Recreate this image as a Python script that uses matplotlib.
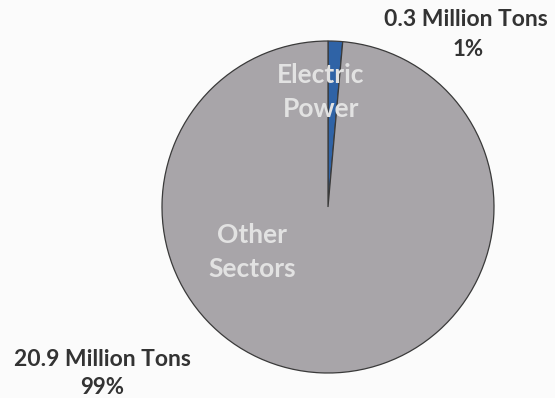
import matplotlib
matplotlib.use("Agg")
import matplotlib.pyplot as plt

sectors = ["Electric\nPower", "Other\nSectors"]
tons = [0.3, 20.9]
tons_labels = ["0.3 Million Tons", "20.9 Million Tons"]
pct_labels = ["1%", "99%"]
colors = ["#2f63a6", "#a8a5a9"]

W, H = 555, 398
fig = plt.figure(figsize=(W / 100, H / 100), dpi=100)
fig.patch.set_facecolor("#fbfbfb")
ax = fig.add_axes([0, 0, 1, 1])

cx, cy, r = 328, H - 207, 166
ax.pie(tons, colors=colors, startangle=90, counterclock=False,
       center=(cx, cy), radius=r, frame=True,
       wedgeprops=dict(edgecolor="#3a3a3a", linewidth=0.9))
ax.set_xlim(0, W)
ax.set_ylim(0, H)
ax.set_aspect("equal")
ax.axis("off")

font = "Lato"
dark = "#333333"
light = "#e2e2e2"

# outside value labels
ax.text(466, H - 20, tons_labels[0], ha="center", va="center",
        fontsize=16.5, fontweight="bold", color=dark, family=font)
ax.text(468, H - 50, pct_labels[0], ha="center", va="center",
        fontsize=16, fontweight="bold", color=dark, family=font)
ax.text(102, H - 360, tons_labels[1], ha="center", va="center",
        fontsize=16.5, fontweight="bold", color=dark, family=font)
ax.text(102, H - 388, pct_labels[1], ha="center", va="center",
        fontsize=16, fontweight="bold", color=dark, family=font)

# sector names inside the pie
for (x, y), name in zip([(321, 92), (252, 252)], sectors):
    ax.text(x, H - y, name, ha="center", va="center", fontsize=19,
            fontweight="bold", color=light, family=font, linespacing=1.5)

fig.savefig("out.png", dpi=100, facecolor=fig.get_facecolor())
